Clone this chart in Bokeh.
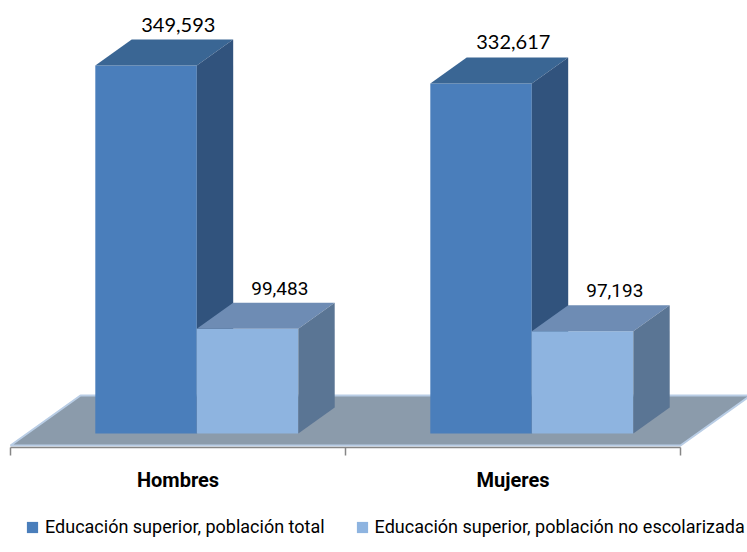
from bokeh.plotting import figure
from bokeh.layouts import column
from bokeh.models import Range1d, LinearAxis, FixedTicker, Legend, LegendItem
from bokeh.core.properties import value
from bokeh.embed import file_html
from bokeh.resources import INLINE

# ---- data ----
categories = ["Hombres", "Mujeres"]
series_names = ["Educación superior, población total",
                "Educación superior, población no escolarizada"]
total = [349593, 332617]
no_escolarizada = [99483, 97193]

# ---- style / layout constants ----
W, H_MAIN, H_LEG = 747, 500, 52
FRAME_H = 447
PX_PER_CAT = 335.0          # screen px per category unit
VAL_PER_PX = 950.0          # data units per screen px (vertical)
FX = 70.0 / PX_PER_CAT      # depth projection (x, category units)
FY = 50.0 * VAL_PER_PX      # depth projection (y, value units)
Z0, Z1 = 0.24, 0.76         # bar depth within floor
BAR_OFF, BAR_W = 0.203, 0.303

colors = [
    dict(front="#4A7EBB", top="#3A6694", side="#31537D"),
    dict(front="#8EB4E0", top="#6E8CB4", side="#5A7594"),
]
label_fonts = ["Lato", "Roboto"]
label_sizes = ["20px", "19px"]


def proj(x, v, z):
    return x + z * FX, v + z * FY


p = figure(width=W, height=H_MAIN, output_backend="svg", toolbar_location=None,
           x_axis_type=None, y_axis_type=None,
           x_range=Range1d(-10 / PX_PER_CAT, (W - 10) / PX_PER_CAT),
           y_range=Range1d(-2 * VAL_PER_PX, (FRAME_H - 2) * VAL_PER_PX),
           min_border_left=0, min_border_right=0, min_border_top=0,
           min_border_bottom=H_MAIN - FRAME_H)
p.outline_line_color = None
p.grid.visible = False
p.background_fill_color = "white"
p.border_fill_color = "white"

# ---- floor ----
n = len(categories)
fl = [proj(0, 0, 0), proj(n, 0, 0), proj(n, 0, 1), proj(0, 0, 1)]
p.patch([q[0] for q in fl], [q[1] for q in fl], fill_color="#8B9BAB",
        line_color="#B9CDE5", line_width=2)

# ---- bars ----
for s, vals in enumerate([total, no_escolarizada]):
    col = colors[s]
    fl_, fr_, fb_, ft_ = [], [], [], []
    txs, tys, sxs, sys_ = [], [], [], []
    lx, ly, lt = [], [], []
    for c, v in enumerate(vals):
        x0 = c + BAR_OFF + s * BAR_W
        x1 = x0 + BAR_W
        a = proj(x0, 0, Z0)
        b = proj(x1, v, Z0)
        fl_.append(a[0]); fr_.append(b[0]); fb_.append(a[1]); ft_.append(b[1])
        top = [proj(x0, v, Z0), proj(x1, v, Z0), proj(x1, v, Z1), proj(x0, v, Z1)]
        txs.append([q[0] for q in top]); tys.append([q[1] for q in top])
        side = [proj(x1, 0, Z0), proj(x1, v, Z0), proj(x1, v, Z1), proj(x1, 0, Z1)]
        sxs.append([q[0] for q in side]); sys_.append([q[1] for q in side])
        cx, cy = proj((x0 + x1) / 2, v, Z1)
        lx.append(cx - 0.06 * FX)
        ly.append(cy + 8 * VAL_PER_PX)
        lt.append(f"{v:,}")
    p.quad(left=fl_, right=fr_, bottom=fb_, top=ft_, fill_color=col["front"],
           line_color=None)
    p.patches(txs, tys, fill_color=col["top"], line_color=None)
    p.patches(sxs, sys_, fill_color=col["side"], line_color=None)
    p.text(x=lx, y=ly, text=lt, text_align="center", text_baseline="bottom",
           text_font=value(label_fonts[s]), text_font_size=label_sizes[s],
           text_color="#000000")

# ---- category axis ----
ax = LinearAxis(ticker=FixedTicker(ticks=[i + 0.5 for i in range(n)],
                                   minor_ticks=list(range(n + 1))),
                major_label_overrides={i + 0.5: cat for i, cat in enumerate(categories)},
                bounds=(0, n))
ax.axis_line_color = "#868686"
ax.axis_line_width = 1.5
ax.major_tick_line_color = None
ax.major_tick_out = 0
ax.major_tick_in = 0
ax.minor_tick_line_color = "#868686"
ax.minor_tick_line_width = 1.5
ax.minor_tick_out = 8
ax.minor_tick_in = 0
ax.major_label_standoff = 12
ax.major_label_text_font = "Roboto"
ax.major_label_text_font_style = "bold"
ax.major_label_text_font_size = "20px"
ax.major_label_text_color = "#000000"
p.add_layout(ax, "below")

# ---- legend (own strip below the chart) ----
pl = figure(width=W, height=H_LEG, output_backend="svg", toolbar_location=None,
            x_axis_type=None, y_axis_type=None,
            x_range=Range1d(0, 1), y_range=Range1d(0, 1),
            min_border_left=0, min_border_right=0, min_border_top=0,
            min_border_bottom=0)
pl.outline_line_color = None
pl.grid.visible = False
items = []
for s in range(len(series_names)):
    # legend proxy glyph, placed outside the visible range of this strip
    r = pl.quad(left=[5], right=[6], bottom=[5], top=[6], fill_color=colors[s]["front"],
                line_color=None)
    items.append(LegendItem(label=series_names[s], renderers=[r]))
lg = Legend(items=items, orientation="horizontal", location=(25, 15),
            border_line_color=None, background_fill_alpha=0,
            glyph_width=14, glyph_height=14, label_standoff=6, spacing=30,
            padding=0, margin=0,
            label_text_font="Roboto", label_text_font_size="18px",
            label_text_color="#000000")
pl.add_layout(lg, "center")

layout = column(p, pl, spacing=0)
open("out.html", "w").write(file_html(layout, INLINE))
